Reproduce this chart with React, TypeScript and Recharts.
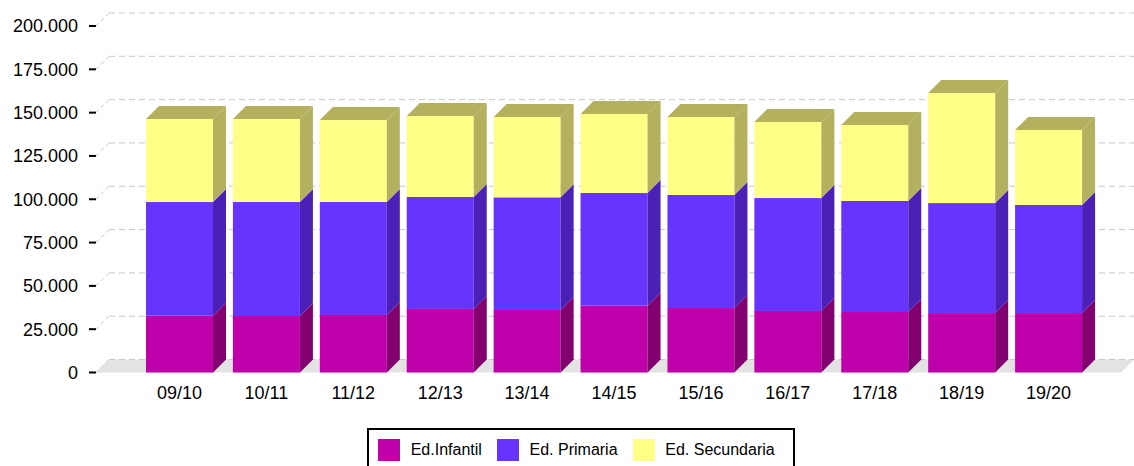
import React from 'react';
import { BarChart, Bar, XAxis, YAxis, CartesianGrid } from 'recharts';

const categories = ['09/10', '10/11', '11/12', '12/13', '13/14', '14/15', '15/16', '16/17', '17/18', '18/19', '19/20'];
const infantil = [32800, 32600, 33200, 36700, 36100, 38600, 37200, 35500, 34900, 34300, 34300];
const primaria = [65600, 65800, 65200, 64600, 65000, 65000, 65300, 65200, 64100, 63500, 62400];
const secundaria = [47900, 47900, 47300, 46800, 46400, 45600, 45000, 43900, 43900, 63500, 43300];
const yTicks = [0, 25000, 50000, 75000, 100000, 125000, 150000, 175000, 200000];

const seriesNames = ['Ed.Infantil', 'Ed. Primaria', 'Ed. Secundaria'];
const seriesKeys = ['infantil', 'primaria', 'secundaria'];
const frontColors = ['#BF00AA', '#6633FF', '#FFFF88'];
const darkColors = ['#82006F', '#4A20B6', '#B3B05E'];

const data = categories.map((c, i) => ({
  cat: c,
  infantil: infantil[i],
  primaria: primaria[i],
  secundaria: secundaria[i],
}));

const D = 13;
const FONT = '"Liberation Sans", Arial, Helvetica, sans-serif';

const fmt = (v: number) => String(v).replace(/\B(?=(\d{3})+(?!\d))/g, '.');

const makeShape = (si: number, isTop: boolean) => (p: any) => {
  const { x, y, width, height } = p;
  if (width == null || height == null) return <g />;
  const r = x + width;
  const b = y + height;
  return (
    <g>
      <rect x={x} y={y} width={width} height={height} fill={frontColors[si]} />
      <polygon points={`${r},${y} ${r + D},${y - D} ${r + D},${b - D} ${r},${b}`} fill={darkColors[si]} />
      {isTop && (
        <polygon points={`${x},${y} ${x + D},${y - D} ${r + D},${y - D} ${r},${y}`} fill={darkColors[si]} />
      )}
    </g>
  );
};

const renderGridLine = (p: any) => {
  const { x1, x2, y1, index } = p;
  const isBottom = p.y != null && p.height != null ? Math.abs(y1 - (p.y + p.height)) < 0.6 : index === 0;
  return (
    <g key={`gl-${index}-${y1}`}>
      {isBottom && (
        <polygon points={`${x1},${y1} ${x1 + D},${y1 - D} ${x2 + D},${y1 - D} ${x2},${y1}`} fill="#E3E3E3" />
      )}
      <line x1={x1} y1={y1} x2={x1 + D} y2={y1 - D} stroke="#C8C8C8" strokeDasharray="4 3" />
      <line x1={x1 + D} y1={y1 - D} x2={x2 + D} y2={y1 - D} stroke="#C8C8C8" strokeDasharray="6 4" />
    </g>
  );
};

export default function App() {
  return (
    <div style={{ position: 'absolute', left: 0, top: 0, width: 1134, height: 466, overflow: 'hidden', background: '#fff', fontFamily: FONT }}>
      <BarChart width={1134} height={420} data={data} margin={{ top: 26, right: 13, bottom: 0, left: 0 }}>
        <CartesianGrid vertical={false} horizontal={renderGridLine} />
        <XAxis
          dataKey="cat"
          axisLine={false}
          tickLine={false}
          tickSize={0}
          tickMargin={14}
          height={47.5}
          padding={{ left: 40, right: 29 }}
          tick={{ fontSize: 18, fill: '#000', fontFamily: FONT }}
          interval={0}
        />
        <YAxis
          width={96}
          domain={[0, 200000]}
          ticks={yTicks}
          axisLine={false}
          tickLine={{ stroke: '#000', strokeWidth: 2 }}
          tickSize={7}
          tickMargin={11}
          tickFormatter={fmt}
          tick={{ fontSize: 18, fill: '#000', fontFamily: FONT }}
        />
        {seriesKeys.map((k, si) => (
          <Bar
            key={k}
            dataKey={k}
            name={seriesNames[si]}
            stackId="a"
            barSize={67}
            fill={frontColors[si]}
            isAnimationActive={false}
            shape={makeShape(si, si === seriesKeys.length - 1)}
          />
        ))}
      </BarChart>
      <div
        style={{
          position: 'absolute',
          left: 367,
          top: 428,
          width: 415,
          height: 60,
          border: '2px solid #000',
          background: '#fff',
          display: 'flex',
          alignItems: 'flex-start',
          paddingLeft: 9,
          paddingTop: 9,
          boxSizing: 'content-box',
        }}
      >
        {seriesNames.map((n, si) => (
          <div key={n} style={{ display: 'flex', alignItems: 'center', marginRight: 15 }}>
            <div style={{ width: 22, height: 22, background: frontColors[si], marginRight: 10.7 }} />
            <span style={{ fontSize: 16, color: '#000', fontFamily: FONT, lineHeight: '20px' }}>{n}</span>
          </div>
        ))}
      </div>
    </div>
  );
}
